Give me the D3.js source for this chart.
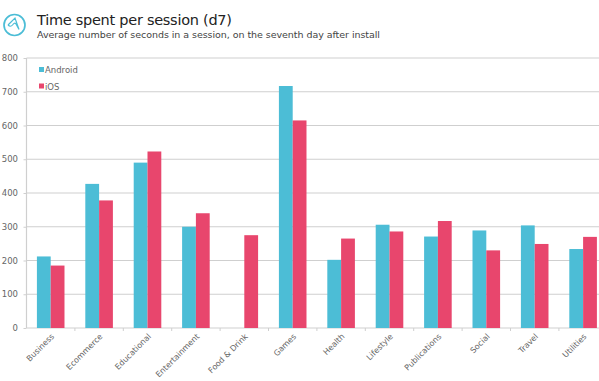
<!DOCTYPE html>
<html>
<head>
<meta charset="utf-8">
<script src="https://cdn.jsdelivr.net/npm/d3@7"></script>
<style>
	html, body { margin: 0; padding: 0; background: #fff; overflow: hidden; }
	svg { display: block; }
	text { font-family: 'DejaVu Sans', sans-serif; }
</style>
</head>
<body>
<svg id="chart"></svg>
<script>
const categories = ['Business', 'Ecommerce', 'Educational', 'Entertainment', 'Food & Drink', 'Games', 'Health', 'Lifestyle', 'Publications', 'Social', 'Travel', 'Utilities'];
const android = [212, 427, 490, 300, null, 717, 202, 306, 271, 289, 304, 234];
const ios = [185, 378, 523, 340, 275, 615, 265, 286, 317, 230, 249, 270];
const seriesNames = ['Android', 'iOS'];
const seriesColors = ['#4cbdd6', '#e8466d'];
const yTicks = [0, 100, 200, 300, 400, 500, 600, 700, 800];

const WIDTH = 599;
const HEIGHT = 381;
const MARGIN = { top: 58, bottom: 53, left: 26.5 };
const GRID = '#cfcfcf';
const LABEL = '#666';

const $svg = d3.select('#chart').attr('width', WIDTH).attr('height', HEIGHT);

// the plot runs past the right edge of the window, the last band is cut
const scaleX = d3
	.scaleBand()
	.domain(categories)
	.range([MARGIN.left, 607.3])
	.paddingInner(0.43)
	.paddingOuter(0.215);

const scaleSeries = d3
	.scaleBand()
	.domain(seriesNames)
	.range([0, scaleX.bandwidth()]);

const scaleY = d3
	.scaleLinear()
	.domain([0, 800])
	.range([HEIGHT - MARGIN.bottom, MARGIN.top]);

// y axis and gridlines
const axisY = d3
	.axisLeft(scaleY)
	.tickValues(yTicks)
	.tickSize(3);

const $axisY = $svg
	.append('g')
	.attr('transform', `translate(${MARGIN.left}, 0)`)
	.call(axisY);

$axisY.select('.domain').attr('stroke', GRID).attr('stroke-width', 1.2).attr('d', `M0,${scaleY(800)}V${scaleY(0)}`);
$axisY.selectAll('.tick line').attr('stroke', GRID);
$axisY.selectAll('.tick text').attr('fill', LABEL).style('font-size', '8.5px').attr('x', -8.5).attr('text-anchor', 'end');

$svg
	.append('g')
	.selectAll('line')
	.data(yTicks)
	.enter()
	.append('line')
	.attr('x1', MARGIN.left)
	.attr('x2', WIDTH)
	.attr('y1', d => scaleY(d))
	.attr('y2', d => scaleY(d))
	.attr('stroke', GRID)
	.attr('stroke-width', 1.1);

// bars
const $groups = $svg
	.append('g')
	.selectAll('g')
	.data(categories)
	.enter()
	.append('g')
	.attr('transform', d => `translate(${scaleX(d)}, 0)`);

[android, ios].forEach((values, s) => {
	$groups
		.filter((d, i) => values[i] !== null)
		.append('rect')
		.attr('x', scaleSeries(seriesNames[s]))
		.attr('width', scaleSeries.bandwidth())
		.attr('y', d => scaleY(values[categories.indexOf(d)]))
		.attr('height', d => scaleY(0) - scaleY(values[categories.indexOf(d)]))
		.attr('fill', seriesColors[s]);
});

// x axis
const axisX = d3.axisBottom(scaleX).tickSize(0).tickPadding(0);
const $axisX = $svg
	.append('g')
	.attr('transform', `translate(0, ${scaleY(0)})`)
	.call(axisX);

$axisX.select('.domain').remove();
$axisX
	.selectAll('.tick text')
	.attr('fill', LABEL)
	.style('font-size', '8px')
	.attr('text-anchor', 'end')
	.attr('transform', 'translate(0, 5) rotate(-45)')
	.attr('dy', '0.7em')
	.attr('y', 0);

const step = scaleX.step();
$svg
	.append('g')
	.selectAll('line')
	.data(categories.slice(1))
	.enter()
	.append('line')
	.attr('x1', d => scaleX(d) - step * 0.215)
	.attr('x2', d => scaleX(d) - step * 0.215)
	.attr('y1', scaleY(0))
	.attr('y2', scaleY(0) + 3)
	.attr('stroke', GRID);

// legend
const $legend = $svg
	.append('g')
	.selectAll('g')
	.data(seriesNames)
	.enter()
	.append('g')
	.attr('transform', (d, i) => `translate(39, ${70 + i * 16.5})`);

$legend
	.append('rect')
	.attr('y', -3)
	.attr('width', 5)
	.attr('height', 5)
	.attr('fill', (d, i) => seriesColors[i]);

$legend
	.append('text')
	.attr('x', 6)
	.attr('y', 3)
	.attr('fill', LABEL)
	.style('font-size', '8.5px')
	.text(d => d);

// logo
const $logo = $svg.append('g').attr('transform', 'translate(14.5, 25)');
$logo.append('circle').attr('r', 10.5).attr('fill', 'none').attr('stroke', '#4cbdd6').attr('stroke-width', 1.7);
$logo
	.append('path')
	.attr('d', 'M-6.5,0 L0.5,-7 L4.5,4.5 M-6.5,0 Q-4,2.5 -2,0 Q0,-3 1.5,-1 L4.5,4.5')
	.attr('fill', 'none')
	.attr('stroke', '#4cbdd6')
	.attr('stroke-width', 1.2);

// titles
$svg
	.append('text')
	.attr('x', 37)
	.attr('y', 25)
	.attr('fill', '#222')
	.style('font-size', '14.5px')
	.attr('textLength', 195)
	.text('Time spent per session (d7)');

$svg
	.append('text')
	.attr('x', 37)
	.attr('y', 38)
	.attr('fill', '#444')
	.style('font-size', '9.5px')
	.attr('textLength', 343)
	.text('Average number of seconds in a session, on the seventh day after install');
</script>
</body>
</html>
